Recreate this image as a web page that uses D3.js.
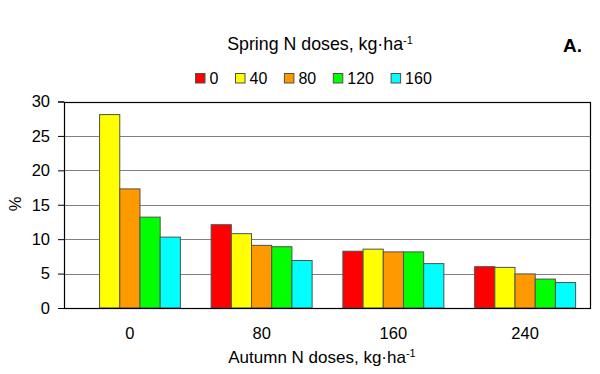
<!DOCTYPE html>
<html><head><meta charset="utf-8">
<script src="https://cdn.jsdelivr.net/npm/d3@7"></script>
<style>
html,body{margin:0;padding:0;background:#fff;}
text{font-family:Arial,"Liberation Sans",sans-serif;fill:#000;}
</style></head>
<body>
<svg id="c" width="600" height="374"></svg>
<script>
const groups = ["0","80","160","240"];
const series = ["0","40","80","120","160"];
const colors = ["#FF0000","#FFFF00","#FF9900","#00FF00","#00FFFF"];
// values per spring dose (series), across autumn doses (groups)
const s0   = [null, 12.1, 8.25, 6.0];
const s40  = [28.1, 10.8, 8.55, 5.9];
const s80  = [17.3, 9.1, 8.15, 4.95];
const s120 = [13.2, 8.9, 8.15, 4.2];
const s160 = [10.3, 6.9, 6.45, 3.7];
const yTicks = [0,5,10,15,20,25,30];

const values = [s0,s40,s80,s120,s160];
const svg = d3.select("#c");
const L=64, R=591, T=101.5, B=308;

const x0 = d3.scaleBand().domain(groups).range([L,R]).paddingInner(0.2334).paddingOuter(0.1167);
const x1 = d3.scaleBand().domain(series).range([0,x0.bandwidth()]);
const y = d3.scaleLinear().domain([0,30]).range([B,T]);

// gridlines
svg.append("g").selectAll("line").data(yTicks.filter(d=>d>0)).join("line")
  .attr("x1",L).attr("x2",R).attr("y1",d=>Math.round(y(d))+0.5).attr("y2",d=>Math.round(y(d))+0.5)
  .attr("stroke","#808080").attr("stroke-width",1);

// bars
const data = [];
series.forEach((s,i)=>groups.forEach((g,j)=>{ if(values[i][j]!=null) data.push({s,g,v:values[i][j],c:colors[i]}); }));
svg.append("g").selectAll("rect").data(data).join("rect")
  .attr("x",d=>x0(d.g)+x1(d.s)).attr("width",x1.bandwidth())
  .attr("y",d=>y(d.v)).attr("height",d=>B-y(d.v))
  .attr("fill",d=>d.c).attr("stroke","#505050").attr("stroke-width",1);

// frame
svg.append("rect").attr("x",L+0.5).attr("y",Math.round(T)+0.5).attr("width",R-L-1).attr("height",B-Math.round(T))
  .attr("fill","none").attr("stroke","#000").attr("stroke-width",1.2);

// y axis
const ya = svg.append("g").attr("transform",`translate(${L},0)`)
  .call(d3.axisLeft(y).tickValues(yTicks).tickSize(6).tickPadding(8).tickFormat(d3.format("d")));
ya.attr("font-size",null).attr("font-family",null);
ya.select(".domain").attr("stroke","#000");
ya.selectAll(".tick line").attr("stroke","#000");
ya.selectAll("text").style("font-size","16.5px");

// x axis
const xa = svg.append("g").attr("transform",`translate(0,${B})`)
  .call(d3.axisBottom(x0).tickSize(0).tickPadding(19));
xa.attr("font-size",null).attr("font-family",null);
xa.select(".domain").remove();
xa.selectAll("text").style("font-size","16.5px");

// axis titles
const xt = svg.append("text").attr("x",322).attr("y",363).attr("text-anchor","middle").style("font-size","17px");
xt.append("tspan").text("Autumn N doses, kg·ha");
xt.append("tspan").attr("dy",-6).style("font-size","11px").text("-1");

svg.append("text").attr("transform","translate(21,204) rotate(-90)").attr("text-anchor","middle")
  .style("font-size","16.5px").text("%");

// title
const tt = svg.append("text").attr("x",320).attr("y",49.7).attr("text-anchor","middle").style("font-size","17.8px");
tt.append("tspan").text("Spring N doses, kg·ha");
tt.append("tspan").attr("dy",-6).style("font-size","11px").text("-1");

svg.append("text").attr("x",563).attr("y",52.3).style("font-size","19px").attr("font-weight","bold").text("A.");

// legend
const lg = svg.append("g");
let lx = 195;
series.forEach((s,i)=>{
  lg.append("rect").attr("x",lx+0.5).attr("y",73.5).attr("width",9.5).attr("height",9.5)
    .attr("fill",colors[i]).attr("stroke","#505050").attr("stroke-width",1);
  const t = lg.append("text").attr("x",lx+14.5).attr("y",83.8).style("font-size","16px").text(s);
  lx += 14.5 + t.node().getComputedTextLength() + 16.6;
});
</script>
</body></html>
